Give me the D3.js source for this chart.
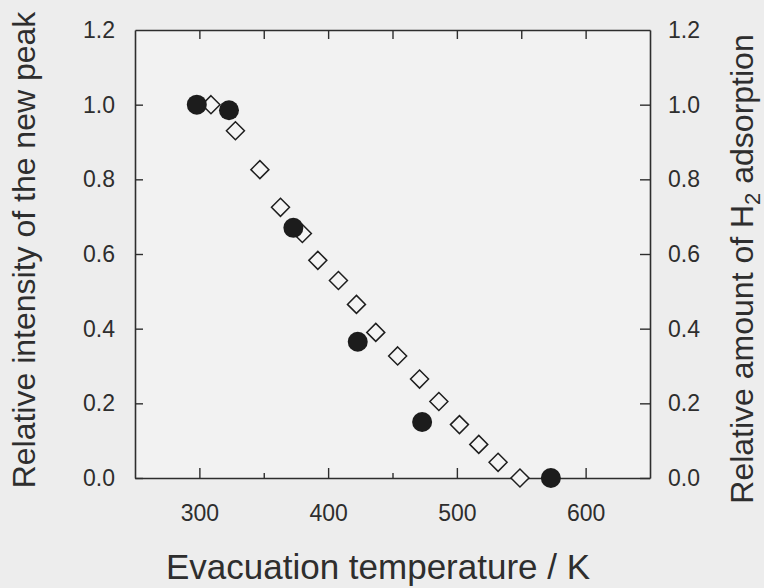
<!DOCTYPE html>
<html><head><meta charset="utf-8">
<script src="https://cdn.jsdelivr.net/npm/d3@7"></script>
<style>
html,body{margin:0;padding:0;background:#ededed;}
svg{display:block;}
</style></head>
<body>
<svg id="chart" width="764" height="588"></svg>
<script>
// Data
const peakTemps = [298, 323, 373, 423, 473, 573];
const peakIntensity = [1.0, 0.985, 0.67, 0.365, 0.15, 0.0];
const h2Temps = [309, 328, 347, 363, 380, 392, 408, 422, 437, 454, 471, 486, 502, 517, 532, 549];
const h2Amount = [1.0, 0.93, 0.826, 0.725, 0.655, 0.583, 0.529, 0.465, 0.39, 0.327, 0.265, 0.205, 0.143, 0.09, 0.042, 0.0];
const xMajorTicks = [300, 400, 500, 600];
const xMinorTicks = [350, 450, 550];
const xTopTicks = [300, 350, 400, 450, 500, 550, 600];
const yTicks = [0.0, 0.2, 0.4, 0.6, 0.8, 1.0, 1.2];
const xTitle = "Evacuation temperature / K";
const yLeftTitle = "Relative intensity of the new peak";

const svg = d3.select("#chart");
const W = 764, H = 588;
const m = {left: 135, right: 650, top: 30, bottom: 478};
const ink = "#2e2e2e";
const font = "'Liberation Sans', Arial, Helvetica, sans-serif";

svg.append("rect").attr("width", W).attr("height", H).attr("fill", "#ededed");
svg.append("rect").attr("x", m.left).attr("y", m.top)
  .attr("width", m.right - m.left).attr("height", m.bottom - m.top).attr("fill", "#f2f2f2");

const x = d3.scaleLinear().domain([250, 650]).range([m.left, m.right]);
const y = d3.scaleLinear().domain([0, 1.2]).range([m.bottom, m.top]);
const fmt = d3.format(".1f");

function styleAxis(g) {
  g.selectAll("path.domain").attr("stroke", ink).attr("stroke-width", 1.6);
  g.selectAll(".tick line").attr("stroke", ink).attr("stroke-width", 1.4);
  g.selectAll(".tick text").attr("fill", ink).style("font-family", font).style("font-size", "23px");
}

// bottom
const gB = svg.append("g").attr("transform", `translate(0,${m.bottom})`)
  .call(d3.axisBottom(x).tickValues(xMajorTicks).tickSizeInner(-10).tickSizeOuter(0).tickPadding(27).tickFormat(d3.format("d")));
styleAxis(gB);
svg.append("g").attr("transform", `translate(0,${m.bottom})`)
  .call(d3.axisBottom(x).tickValues(xMinorTicks).tickSize(-5).tickFormat(""))
  .call(g => { g.select("path.domain").remove(); g.selectAll(".tick line").attr("stroke", ink).attr("stroke-width", 1.4); });
// top
const gT = svg.append("g").attr("transform", `translate(0,${m.top})`)
  .call(d3.axisTop(x).tickValues(xTopTicks).tickSizeInner(-9).tickSizeOuter(0).tickFormat(""));
styleAxis(gT);
// left
const gL = svg.append("g").attr("transform", `translate(${m.left},0)`)
  .call(d3.axisLeft(y).tickValues(yTicks).tickSizeInner(-8).tickSizeOuter(0).tickPadding(20).tickFormat(fmt));
styleAxis(gL);
gL.selectAll(".tick").filter(d => d === 1.2).select("line").remove();
// right
const gR = svg.append("g").attr("transform", `translate(${m.right},0)`)
  .call(d3.axisRight(y).tickValues(yTicks).tickSizeInner(-10).tickSizeOuter(0).tickPadding(18).tickFormat(fmt));
styleAxis(gR);
gR.selectAll(".tick").filter(d => d === 1.2).select("line").remove();

// markers: diamonds
const dr = 9;
svg.append("g").selectAll("path").data(h2Temps.map((t, i) => [t, h2Amount[i]]))
  .join("path")
  .attr("d", d => {
    const cx = x(d[0]), cy = y(d[1]);
    const p = d3.path();
    p.moveTo(cx, cy - dr); p.lineTo(cx + dr, cy); p.lineTo(cx, cy + dr); p.lineTo(cx - dr, cy); p.closePath();
    return p.toString();
  })
  .attr("fill", "#f4f4f4").attr("stroke", "#1e1e1e").attr("stroke-width", 1.5);

// filled circles
svg.append("g").selectAll("circle").data(peakTemps.map((t, i) => [t, peakIntensity[i]]))
  .join("circle")
  .attr("cx", d => x(d[0])).attr("cy", d => y(d[1])).attr("r", 10)
  .attr("fill", "#1c1c1c");

// titles
svg.append("text").attr("x", 378).attr("y", 579).attr("text-anchor", "middle")
  .attr("fill", ink).style("font-family", font).style("font-size", "35px").text(xTitle);

svg.append("text").attr("transform", "translate(35,250) rotate(-90)").attr("text-anchor", "middle")
  .attr("fill", ink).style("font-family", font).style("font-size", "32px").text(yLeftTitle);

const rt = svg.append("text").attr("transform", "translate(753,269) rotate(-90)").attr("text-anchor", "middle")
  .attr("fill", ink).style("font-family", font).style("font-size", "32px");
rt.append("tspan").text("Relative amount of H");
rt.append("tspan").attr("dy", 7).style("font-size", "22px").text("2");
rt.append("tspan").attr("dy", -7).text(" adsorption");
</script>
</body></html>
